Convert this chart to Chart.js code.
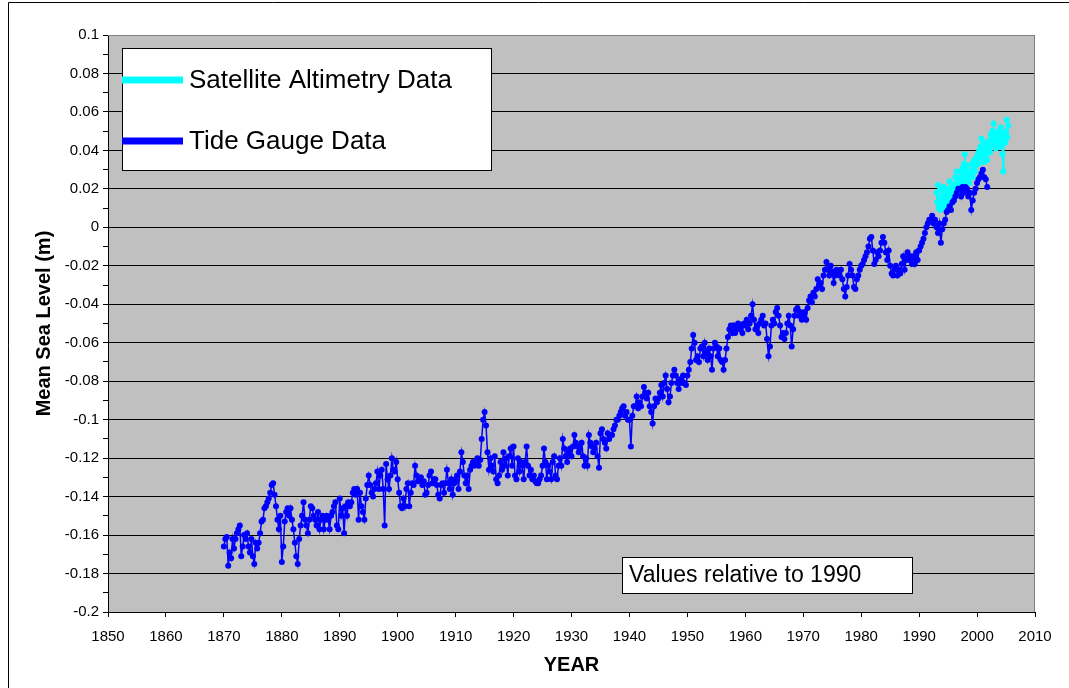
<!DOCTYPE html>
<html>
<head>
<meta charset="utf-8">
<title>Mean Sea Level</title>
<script src="https://cdn.jsdelivr.net/npm/chart.js@4/dist/chart.umd.min.js"></script>
<style>
  html, body { margin: 0; padding: 0; background: #ffffff; }
  canvas { display: block; }
</style>
</head>
<body>
<canvas id="msl" width="1069" height="688"></canvas>
<script>
// Mean sea level in metres, relative to 1990.

// Tide gauge record, quarterly samples (one row per year).
const tideGaugeStart = 1870;
const tideGaugeStep = 0.25;
const tideGauge = [
  -0.166, -0.162, -0.161, -0.176, // 1870
  -0.169, -0.172, -0.162, -0.167,
  -0.162, -0.159, -0.157, -0.155,
  -0.171, -0.166, -0.160, -0.162,
  -0.159, -0.166, -0.169, -0.162,
  -0.171, -0.175, -0.164, -0.167, // 1875
  -0.164, -0.159, -0.153, -0.152,
  -0.146, -0.145, -0.143, -0.141,
  -0.138, -0.134, -0.133, -0.139,
  -0.145, -0.152, -0.157, -0.150,
  -0.174, -0.166, -0.153, -0.148, // 1880
  -0.146, -0.150, -0.146, -0.152,
  -0.157, -0.164, -0.171, -0.175,
  -0.162, -0.155, -0.150, -0.143,
  -0.152, -0.155, -0.159, -0.152,
  -0.145, -0.146, -0.150, -0.152, // 1885
  -0.155, -0.148, -0.157, -0.152,
  -0.150, -0.157, -0.152, -0.150,
  -0.152, -0.157, -0.150, -0.148,
  -0.145, -0.143, -0.155, -0.157,
  -0.141, -0.150, -0.146, -0.159, // 1890
  -0.145, -0.150, -0.143, -0.145,
  -0.143, -0.138, -0.136, -0.139,
  -0.136, -0.152, -0.138, -0.145,
  -0.148, -0.152, -0.141, -0.134,
  -0.129, -0.134, -0.138, -0.140, // 1895
  -0.136, -0.133, -0.127, -0.136,
  -0.129, -0.126, -0.136, -0.155,
  -0.123, -0.131, -0.136, -0.129,
  -0.120, -0.126, -0.127, -0.122,
  -0.131, -0.138, -0.145, -0.146, // 1900
  -0.141, -0.145, -0.136, -0.133,
  -0.145, -0.138, -0.133, -0.134,
  -0.124, -0.129, -0.132, -0.131,
  -0.130, -0.134, -0.132, -0.139,
  -0.138, -0.134, -0.129, -0.127, // 1905
  -0.133, -0.131, -0.131, -0.134,
  -0.139, -0.141, -0.134, -0.133,
  -0.138, -0.133, -0.126, -0.133,
  -0.136, -0.131, -0.139, -0.133,
  -0.131, -0.129, -0.136, -0.127, // 1910
  -0.117, -0.122, -0.129, -0.133,
  -0.129, -0.136, -0.126, -0.124,
  -0.122, -0.124, -0.122, -0.120,
  -0.124, -0.121, -0.110, -0.100,
  -0.096, -0.103, -0.117, -0.126, // 1915
  -0.120, -0.124, -0.127, -0.119,
  -0.131, -0.133, -0.129, -0.122,
  -0.126, -0.117, -0.124, -0.120,
  -0.129, -0.119, -0.115, -0.124,
  -0.114, -0.129, -0.131, -0.120, // 1920
  -0.127, -0.122, -0.124, -0.131,
  -0.122, -0.114, -0.124, -0.129,
  -0.126, -0.131, -0.129, -0.132,
  -0.133, -0.133, -0.131, -0.129,
  -0.124, -0.115, -0.122, -0.131, // 1925
  -0.124, -0.127, -0.131, -0.122,
  -0.119, -0.129, -0.131, -0.124,
  -0.120, -0.124, -0.110, -0.115,
  -0.119, -0.122, -0.117, -0.115,
  -0.119, -0.114, -0.108, -0.112, // 1930
  -0.114, -0.117, -0.115, -0.112,
  -0.119, -0.124, -0.120, -0.124,
  -0.108, -0.112, -0.114, -0.117,
  -0.115, -0.112, -0.119, -0.125,
  -0.107, -0.105, -0.110, -0.112, // 1935
  -0.115, -0.107, -0.110, -0.108,
  -0.108, -0.105, -0.103, -0.100,
  -0.100, -0.098, -0.096, -0.094,
  -0.093, -0.098, -0.096, -0.100,
  -0.100, -0.114, -0.098, -0.093, // 1940
  -0.093, -0.088, -0.094, -0.091,
  -0.093, -0.088, -0.083, -0.086,
  -0.089, -0.086, -0.093, -0.096,
  -0.102, -0.093, -0.089, -0.091,
  -0.089, -0.086, -0.082, -0.088, // 1945
  -0.081, -0.077, -0.084, -0.091,
  -0.088, -0.081, -0.077, -0.074,
  -0.077, -0.081, -0.084, -0.079,
  -0.081, -0.077, -0.081, -0.082,
  -0.077, -0.074, -0.070, -0.063, // 1950
  -0.056, -0.060, -0.069, -0.067,
  -0.070, -0.063, -0.062, -0.067,
  -0.060, -0.065, -0.069, -0.063,
  -0.067, -0.074, -0.063, -0.060,
  -0.062, -0.067, -0.063, -0.069, // 1955
  -0.070, -0.074, -0.069, -0.063,
  -0.057, -0.053, -0.051, -0.055,
  -0.051, -0.055, -0.053, -0.050,
  -0.053, -0.051, -0.055, -0.050,
  -0.051, -0.048, -0.053, -0.050, // 1960
  -0.046, -0.040, -0.048, -0.053,
  -0.051, -0.055, -0.050, -0.048,
  -0.046, -0.051, -0.050, -0.058,
  -0.067, -0.062, -0.051, -0.048,
  -0.050, -0.044, -0.042, -0.046, // 1965
  -0.051, -0.057, -0.055, -0.058,
  -0.055, -0.050, -0.046, -0.051,
  -0.062, -0.053, -0.046, -0.043,
  -0.042, -0.046, -0.044, -0.048,
  -0.046, -0.044, -0.048, -0.042, // 1970
  -0.038, -0.036, -0.039, -0.034,
  -0.036, -0.032, -0.027, -0.030,
  -0.029, -0.032, -0.025, -0.022,
  -0.018, -0.022, -0.025, -0.020,
  -0.023, -0.029, -0.025, -0.022, // 1975
  -0.023, -0.025, -0.022, -0.027,
  -0.032, -0.036, -0.031, -0.025,
  -0.019, -0.022, -0.025, -0.031,
  -0.032, -0.027, -0.025, -0.022,
  -0.020, -0.019, -0.017, -0.015, // 1980
  -0.013, -0.010, -0.006, -0.005,
  -0.012, -0.019, -0.017, -0.013,
  -0.015, -0.012, -0.008, -0.005,
  -0.008, -0.013, -0.017, -0.012,
  -0.020, -0.024, -0.025, -0.022, // 1985
  -0.020, -0.025, -0.022, -0.024,
  -0.019, -0.015, -0.022, -0.017,
  -0.013, -0.017, -0.015, -0.019,
  -0.015, -0.019, -0.013, -0.017,
  -0.012, -0.010, -0.008, -0.006, // 1990
  -0.003,  0.000,  0.002,  0.004,
   0.004,  0.006,  0.002,  0.004,
   0.000, -0.003,  0.002, -0.008,
  -0.001,  0.002,  0.004,  0.008,
   0.009,  0.011,  0.009,  0.013, // 1995
   0.014,  0.016,  0.018,  0.020,
   0.020,  0.016,  0.021,  0.018,
   0.021,  0.020,  0.016,  0.018,
   0.009,  0.014,  0.018,  0.020,
   0.023,  0.025,  0.026,  0.028, // 2000
   0.030,  0.026,  0.025,  0.021
];

// Satellite altimetry record, eight samples per year.
const satelliteStart = 1993;
const satelliteStep = 0.125;
const satellite = [
  0.018, 0.013, 0.022, 0.010, 0.015, 0.009, 0.020, 0.012, // 1993
  0.016, 0.010, 0.021, 0.012, 0.018, 0.011, 0.014, 0.019,
  0.013, 0.020, 0.024, 0.015, 0.012, 0.019, 0.016, 0.021, // 1995
  0.022, 0.017, 0.026, 0.019, 0.029, 0.021, 0.024, 0.018,
  0.025, 0.029, 0.021, 0.027, 0.031, 0.024, 0.033, 0.038,
  0.030, 0.026, 0.032, 0.025, 0.028, 0.023, 0.029, 0.027,
  0.028, 0.033, 0.026, 0.031, 0.035, 0.029, 0.032, 0.036,
  0.034, 0.038, 0.033, 0.040, 0.036, 0.042, 0.046, 0.039, // 2000
  0.037, 0.041, 0.034, 0.044, 0.038, 0.042, 0.035, 0.040,
  0.041, 0.045, 0.039, 0.048, 0.043, 0.050, 0.046, 0.054,
  0.044, 0.049, 0.041, 0.047, 0.043, 0.050, 0.045, 0.042,
  0.047, 0.052, 0.043, 0.038, 0.029, 0.046, 0.049, 0.044,
  0.050, 0.056, 0.047, 0.053                              // 2005
];

// Axis ticks
const yearTicks = [1850, 1860, 1870, 1880, 1890, 1900, 1910, 1920, 1930,
                   1940, 1950, 1960, 1970, 1980, 1990, 2000, 2010];
// every 0.01 m gets a tick mark; labels and grid lines every 0.02 m
const levelTicks = [-0.20, -0.19, -0.18, -0.17, -0.16, -0.15, -0.14, -0.13,
                    -0.12, -0.11, -0.10, -0.09, -0.08, -0.07, -0.06, -0.05,
                    -0.04, -0.03, -0.02, -0.01, 0.00, 0.01, 0.02, 0.03,
                    0.04, 0.05, 0.06, 0.07, 0.08, 0.09, 0.10];

const seriesNames = ['Satellite Altimetry Data', 'Tide Gauge Data'];
const seriesColors = ['#00FFFF', '#0000FF'];
const noteText = 'Values relative to 1990';
const yTitle = 'Mean Sea Level (m)';
const xTitle = 'YEAR';

const FONT = "'Liberation Sans', Arial, Helvetica, sans-serif";
Chart.defaults.font.family = FONT;
Chart.defaults.color = '#000000';

const toPoints = (values, start, step) =>
  values.map((v, i) => ({ x: start + i * step, y: v }));

const isMajorLevel = v => Math.round(v * 100) % 2 === 0;

// Background, frame, legend box, note box and axis titles
const decorations = {
  id: 'decorations',
  beforeDraw(chart) {
    const { ctx, chartArea: a } = chart;
    ctx.save();
    ctx.fillStyle = '#FFFFFF';
    ctx.fillRect(0, 0, chart.width, chart.height);
    ctx.fillStyle = '#C0C0C0';
    ctx.fillRect(a.left, a.top, a.right - a.left, a.bottom - a.top);
    ctx.restore();
  },
  afterDraw(chart) {
    const { ctx, chartArea: a } = chart;
    ctx.save();

    // outer frame
    ctx.strokeStyle = '#000000';
    ctx.lineWidth = 1;
    ctx.beginPath();
    ctx.moveTo(8.5, chart.height);
    ctx.lineTo(8.5, 2.5);
    ctx.lineTo(chart.width, 2.5);
    ctx.stroke();

    // plot area edge (top and right)
    ctx.strokeStyle = '#808080';
    ctx.beginPath();
    ctx.moveTo(a.left, a.top + 0.5);
    ctx.lineTo(a.right - 0.5, a.top + 0.5);
    ctx.lineTo(a.right - 0.5, a.bottom);
    ctx.stroke();

    // legend box
    const lx = a.left + 14, ly = a.top + 13, lw = 369, lh = 122;
    ctx.fillStyle = '#FFFFFF';
    ctx.fillRect(lx, ly, lw, lh);
    ctx.strokeStyle = '#000000';
    ctx.strokeRect(lx + 0.5, ly + 0.5, lw, lh);
    ctx.font = '26px ' + FONT;
    ctx.textBaseline = 'middle';
    ctx.textAlign = 'left';
    const rows = [32, 93];
    seriesNames.forEach((name, i) => {
      const y = ly + rows[i];
      ctx.fillStyle = seriesColors[i];
      ctx.fillRect(lx, y - 3.5, 61, 7);
      ctx.fillStyle = '#000000';
      ctx.fillText(name, lx + 67, y + 1);
    });

    // note box
    const nx = 622, ny = 557, nw = 290, nh = 36;
    ctx.fillStyle = '#FFFFFF';
    ctx.fillRect(nx, ny, nw, nh);
    ctx.strokeStyle = '#000000';
    ctx.strokeRect(nx + 0.5, ny + 0.5, nw, nh);
    ctx.fillStyle = '#000000';
    ctx.font = '23px ' + FONT;
    ctx.fillText(noteText, nx + 7, ny + nh / 2 + 1);

    // axis titles
    ctx.font = 'bold 20px ' + FONT;
    ctx.textAlign = 'center';
    ctx.textBaseline = 'middle';
    ctx.fillText(xTitle, (a.left + a.right) / 2, 665);
    ctx.translate(44, (a.top + a.bottom) / 2);
    ctx.rotate(-Math.PI / 2);
    ctx.fillText(yTitle, 0, 0);

    ctx.restore();
  }
};

new Chart(document.getElementById('msl'), {
  type: 'line',
  data: {
    datasets: [
      {
        label: seriesNames[0],
        data: toPoints(satellite, satelliteStart, satelliteStep),
        borderColor: seriesColors[0],
        backgroundColor: seriesColors[0],
        pointBackgroundColor: seriesColors[0],
        borderWidth: 1.5,
        pointRadius: 3,
        pointBorderWidth: 0,
        order: 1
      },
      {
        label: seriesNames[1],
        data: toPoints(tideGauge, tideGaugeStart, tideGaugeStep),
        borderColor: seriesColors[1],
        backgroundColor: seriesColors[1],
        pointBackgroundColor: seriesColors[1],
        borderWidth: 1.5,
        pointRadius: 3,
        pointBorderWidth: 0,
        order: 0
      }
    ]
  },
  options: {
    responsive: false,
    animation: false,
    events: [],
    layout: { padding: { top: 35, right: 34, left: 0, bottom: 0 } },
    plugins: {
      legend: { display: false },
      tooltip: { enabled: false }
    },
    scales: {
      x: {
        type: 'linear',
        min: 1850,
        max: 2010,
        afterBuildTicks: s => { s.ticks = yearTicks.map(v => ({ value: v })); },
        afterFit: s => { s.height = 76; },
        ticks: {
          autoSkip: false,
          maxRotation: 0,
          padding: 11,
          color: '#000000',
          font: { size: 15 },
          callback: v => String(v)
        },
        grid: {
          drawOnChartArea: false,
          tickLength: 5,
          tickColor: '#000000'
        },
        border: { color: '#000000', width: 1 }
      },
      y: {
        type: 'linear',
        min: -0.2,
        max: 0.1,
        afterBuildTicks: s => { s.ticks = levelTicks.map(v => ({ value: v })); },
        afterFit: s => { s.width = 108; },
        ticks: {
          autoSkip: false,
          padding: 4,
          color: '#000000',
          font: { size: 15 },
          callback: v => isMajorLevel(v) ? String(Math.round(v * 100) / 100) : ''
        },
        grid: {
          color: c => {
            const v = c.tick ? c.tick.value : 0;
            if (!isMajorLevel(v)) return 'rgba(0,0,0,0)';
            return v > 0.095 ? '#808080' : '#000000';
          },
          lineWidth: 1,
          tickLength: 5,
          tickColor: '#000000'
        },
        border: { color: '#000000', width: 1 }
      }
    }
  },
  plugins: [decorations]
});
</script>
</body>
</html>
